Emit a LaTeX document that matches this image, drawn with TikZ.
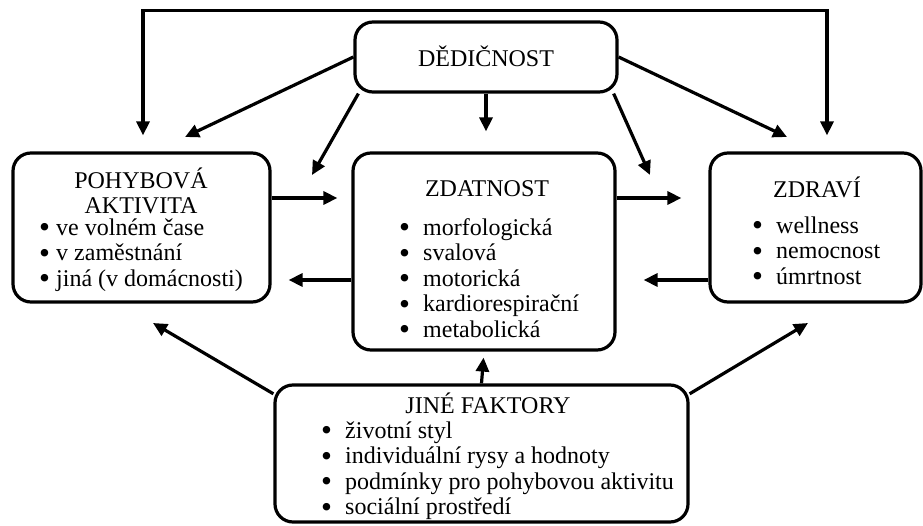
\documentclass[tikz,border=0pt]{standalone}
\usepackage{fontspec}
\setmainfont{Liberation Serif}
\usetikzlibrary{positioning,arrows.meta,calc}
\newcommand{\itm}[2][24pt]{\makebox[#1][l]{\raisebox{-2.4pt}{\scalebox{1.3}{\textbullet}}}#2}
\newcommand{\tp}[1]{\rule{0pt}{#1}}

\begin{document}
\begin{tikzpicture}[x=1pt, y=-1pt, font=\fontsize{24}{25.5}\selectfont,
	>={Triangle[length=14pt,width=13pt]},
	box/.style={draw, line width=3.2pt, rounded corners=18pt, inner sep=0pt},
	ttl/.style={inner sep=0pt, anchor=base},
	lst/.style={inner sep=0pt, anchor=north west, align=left},
	arr/.style={line width=3.2pt, ->}]
\useasboundingbox (0,0) rectangle (923,526);
% boxes
\node[box, minimum width=262pt, minimum height=70pt] (ded) at (486,57) {};
\node[box, minimum width=257pt, minimum height=149pt] (pa) at (141.5,227.5) {};
\node[box, minimum width=262pt, minimum height=197pt] (zd) at (484,251.5) {};
\node[box, minimum width=211pt, minimum height=149pt] (zdr) at (815.5,227.5) {};
\node[box, minimum width=413pt, minimum height=137pt] (jf) at (481.5,453.5) {};
% texts
\node[ttl] (dedT) at (486,67) {DĚDIČNOST};
\node[inner sep=0pt, anchor=north, align=center] (paT) at (141,166) {\tp{22pt}POHYBOVÁ\\AKTIVITA};
\node[lst] (paL) at (39,217) {\tp{18pt}\itm[17pt]{ve volném čase}\\\itm[17pt]{v zaměstnání}\\\itm[17pt]{jiná (v domácnosti)}};
\node[ttl] (zdT) at (487,197) {ZDATNOST};
\node[lst] (zdL) at (399,217) {\tp{18pt}\itm{morfologická}\\\itm{svalová}\\\itm{motorická}\\\itm{kardiorespirační}\\\itm{metabolická}};
\node[ttl] (zdrT) at (817,198) {ZDRAVÍ};
\node[lst] (zdrL) at (752,215) {\tp{18pt}\itm{wellness}\\\itm{nemocnost}\\\itm{úmrtnost}};
\node[ttl] (jfT) at (488,413) {JINÉ FAKTORY};
\node[lst] (jfL) at (321,420) {\tp{18pt}\itm{životní styl}\\\itm{individuální rysy a hodnoty}\\\itm{podmínky pro pohybovou aktivitu}\\\itm{sociální prostředí}};
% free ends
\coordinate (e1) at (185,137); \coordinate (e2) at (312,175);
\coordinate (e3) at (650,175); \coordinate (e4) at (787,137);
\coordinate (e5) at (153,323); \coordinate (e6) at (808,323);
\coordinate (r1) at (0,198); \coordinate (r2) at (0,280);
% arrows
\draw[line width=3.2pt, <->, shorten <=16pt, shorten >=16pt] ([xshift=1.5pt]pa.north) |- ($(ded.north)+(0,-10)$) -| ([xshift=11.5pt]zdr.north);
\draw[arr] (ded.west) -- (e1);
\draw[arr] (ded.196) -- (e2);
\draw[arr, shorten >=20pt] (ded.south) -- (ded.south |- zd.north);
\draw[arr] (ded.344) -- (e3);
\draw[arr] (ded.east) -- (e4);
\draw[arr, shorten >=14pt] (pa.east |- r1) -- (zd.west |- r1);
\draw[arr, shorten >=17pt] (zd.west |- r2) -- (pa.east |- r2);
\draw[arr, shorten >=27pt] (zd.east |- r1) -- (zdr.west |- r1);
\draw[arr, shorten >=27pt] (zdr.west |- r2) -- (zd.east |- r2);
\draw[arr] (jf.164) -- (e5);
\draw[arr, shorten >=6pt] (jf.north) -- (zd.south);
\draw[arr] (jf.16) -- (e6);
\end{tikzpicture}
\end{document}
